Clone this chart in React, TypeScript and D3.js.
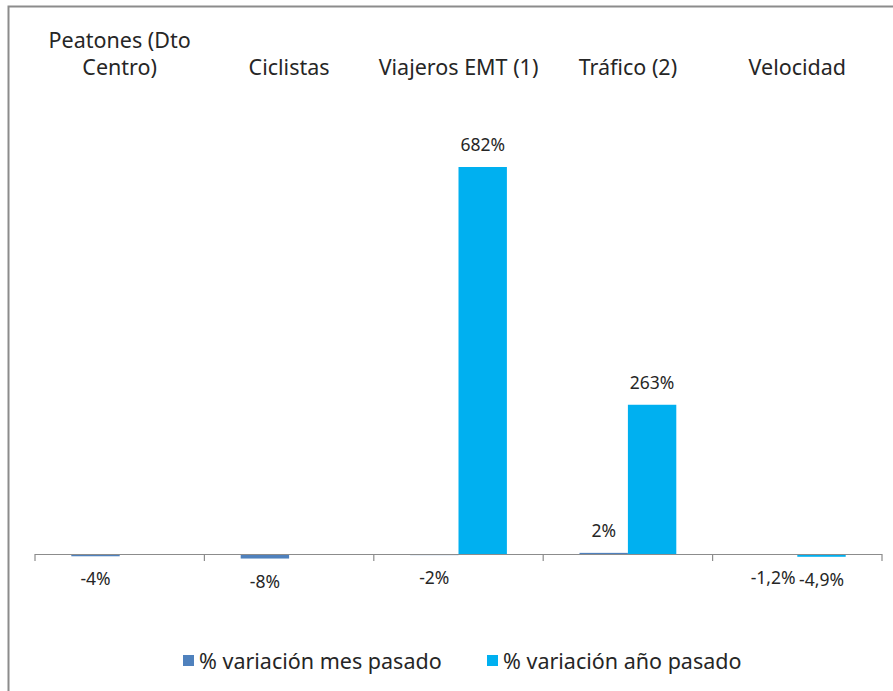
import React from "react";
import * as d3 from "d3";

const categories = ["Peatones (Dto Centro)", "Ciclistas", "Viajeros EMT (1)", "Tráfico (2)", "Velocidad"];
const categoryLines = [["Peatones (Dto", "Centro)"], ["Ciclistas"], ["Viajeros EMT (1)"], ["Tráfico (2)"], ["Velocidad"]];
const mesValues: (number | null)[] = [-4, -8, -2, 2, -1.2];
const anoValues: (number | null)[] = [null, null, 682, 263, -4.9];
const mesLabels = ["-4%", "-8%", "-2%", "2%", "-1,2%"];
const anoLabels = ["", "", "682%", "263%", "-4,9%"];
const seriesNames = ["% variación mes pasado", "% variación año pasado"];
const colors = ["#4F81BD", "#00B0F0"];

const W = 893, H = 691;
const FONT = "'Noto Sans', 'Open Sans', sans-serif";
const TEXT = "#262626";

export default function App() {
  const x0 = d3.scaleBand<string>().domain(categories).range([35, 882]).paddingInner(0).paddingOuter(0);
  const bw = x0.bandwidth();
  const x1 = d3.scaleBand<number>().domain([0, 1]).range([bw * 0.2143, bw * 0.7857]).padding(0);
  const y = d3.scaleLinear().domain([0, 682]).range([554, 167]);
  const series = [mesValues, anoValues];
  const labels = [mesLabels, anoLabels];
  const ticks = d3.range(categories.length + 1).map((i) => 35 + i * bw);

  return (
    <svg width={W} height={H} style={{ position: "absolute", left: 0, top: 0, display: "block" }} fontFamily={FONT}>
      <rect x={0} y={0} width={W} height={H} fill="#fff" />
      <rect x={8.5} y={6.5} width={W + 20} height={H + 20} fill="none" stroke="#8c8c8c" strokeWidth={2} />
      {categories.map((c, i) => {
        const cx = (x0(c) as number) + bw / 2;
        const lines = categoryLines[i];
        return (
          <text key={c} x={cx} textAnchor="middle" fontSize={21.5} fill={TEXT}>
            {lines.map((l, j) => (
              <tspan key={j} x={cx} y={lines.length === 2 ? 48 + j * 27 : 75}>{l}</tspan>
            ))}
          </text>
        );
      })}
      {series.map((vals, s) =>
        vals.map((v, i) => {
          if (v === null) return null;
          const bx = (x0(categories[i]) as number) + (x1(s) as number);
          const y0 = y(0), yv = y(v);
          const top = Math.min(y0, yv);
          const h = Math.max(Math.abs(yv - y0), 1);
          return <rect key={`${s}-${i}`} x={bx} y={top} width={x1.bandwidth()} height={h} fill={colors[s]} />;
        })
      )}
      <line x1={35} x2={882} y1={554.5} y2={554.5} stroke="#8c8c8c" strokeWidth={1.2} />
      {ticks.map((t, i) => (
        <line key={i} x1={t} x2={t} y1={554} y2={561} stroke="#8c8c8c" strokeWidth={1.2} />
      ))}
      {series.map((vals, s) =>
        vals.map((v, i) => {
          if (v === null || !labels[s][i]) return null;
          const cx = (x0(categories[i]) as number) + (x1(s) as number) + x1.bandwidth() / 2;
          const yy = v >= 0 ? y(v) - 16 : y(v) + 29;
          return (
            <text key={`l${s}-${i}`} x={cx} y={yy} textAnchor="middle" fontSize={17.5} fill={TEXT}>
              {labels[s][i]}
            </text>
          );
        })
      )}
      {seriesNames.map((n, s) => {
        const lx = s === 0 ? 183 : 487;
        return (
          <g key={n}>
            <rect x={lx} y={655} width={11} height={11} fill={colors[s]} />
            <text x={lx + 16} y={668.5} fontSize={21.5} fill={TEXT}>{n}</text>
          </g>
        );
      })}
    </svg>
  );
}
